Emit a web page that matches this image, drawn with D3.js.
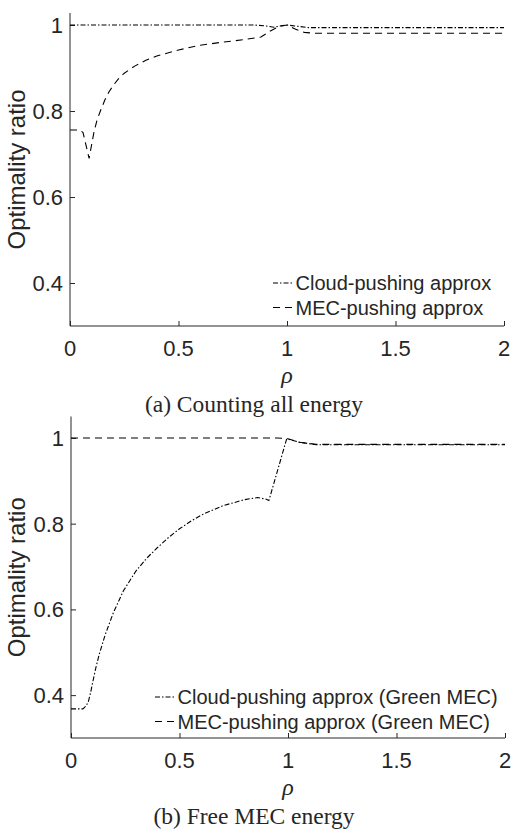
<!doctype html>
<html>
<head>
<meta charset="utf-8">
<script src="https://cdnjs.cloudflare.com/ajax/libs/d3/7.8.5/d3.min.js"></script>
<style>
  body { margin: 0; background: #ffffff; }
  svg text { fill: #262626; }
</style>
<title>Optimality ratio vs rho</title>
</head>
<body>
<div id="chart-area"></div>
<script>
// ---- data ----
var rhoTicks = [0, 0.5, 1, 1.5, 2];
var rhoTickLabels = ["0", "0.5", "1", "1.5", "2"];
var ratioTicks = [0.4, 0.6, 0.8, 1];
var ratioTickLabels = ["0.4", "0.6", "0.8", "1"];

// (a) counting all energy
var aCloudRho = [0, 0.85, 0.9, 0.94, 0.98, 1.0, 1.05, 1.1, 1.15, 2];
var aCloudVal = [1.0, 1.0, 0.998, 0.995, 0.999, 1.0, 0.997, 0.994, 0.994, 0.994];
var aMecRho = [0, 0.045, 0.06, 0.088, 0.11, 0.125, 0.14, 0.16, 0.18, 0.2, 0.225, 0.25, 0.3, 0.35, 0.4, 0.5, 0.6, 0.7, 0.8, 0.88, 0.92, 0.96, 1.0, 1.04, 1.08, 1.12, 2];
var aMecVal = [0.756, 0.756, 0.75, 0.69, 0.75, 0.78, 0.80, 0.825, 0.845, 0.86, 0.876, 0.888, 0.905, 0.918, 0.928, 0.942, 0.953, 0.96, 0.966, 0.972, 0.985, 0.996, 1.0, 0.99, 0.983, 0.981, 0.981];

// (b) free MEC energy
var bCloudRho = [0, 0.055, 0.07, 0.08, 0.09, 0.1, 0.115, 0.13, 0.157, 0.195, 0.241, 0.3, 0.35, 0.4, 0.45, 0.5, 0.55, 0.6, 0.7, 0.8, 0.86, 0.9, 0.912, 0.994, 1.055, 1.13, 2];
var bCloudVal = [0.368, 0.368, 0.375, 0.385, 0.405, 0.43, 0.465, 0.495, 0.54, 0.592, 0.643, 0.69, 0.72, 0.745, 0.768, 0.788, 0.805, 0.82, 0.842, 0.856, 0.861, 0.857, 0.854, 0.998, 0.99, 0.984, 0.984];
var bMecRho = [0, 0.95, 1.0, 1.05, 1.13, 2];
var bMecVal = [1.0, 1.0, 0.998, 0.99, 0.985, 0.985];

var cloudNames = ["Cloud-pushing approx", "Cloud-pushing approx (Green MEC)"];
var mecNames = ["MEC-pushing approx", "MEC-pushing approx (Green MEC)"];
var captions = ["(a) Counting all energy", "(b) Free MEC energy"];

var W = 511, H = 831;
var svg = d3.select("#chart-area").append("svg")
    .attr("width", W)
    .attr("height", H);

var dashDot = "5,2,1.5,2";
var dashed = "7,5";

var panels = [
  { x0: 70, x1: 504, yTop: 13, yBot: 326, yDomain: [0.3, 1.028], legX: 273, legY: 283,
    cloud: [aCloudRho, aCloudVal], mec: [aMecRho, aMecVal] },
  { x0: 71, x1: 505, yTop: 416.5, yBot: 738, yDomain: [0.3, 1.05], legX: 155, legY: 697,
    cloud: [bCloudRho, bCloudVal], mec: [bMecRho, bMecVal] }
];

panels.forEach(function(p, i) {
  var g = svg.append("g");

  var x = d3.scaleLinear().domain([0, 2]).range([p.x0, p.x1]);
  var y = d3.scaleLinear().domain(p.yDomain).range([p.yBot, p.yTop]);

  // axes (MATLAB style: inward ticks, no box)
  var xAxis = g.append("g")
    .attr("transform", "translate(0," + p.yBot + ")")
    .call(d3.axisTop(x).tickValues(rhoTicks).tickSize(5).tickFormat(""));
  var yAxis = g.append("g")
    .attr("transform", "translate(" + p.x0 + ",0)")
    .call(d3.axisRight(y).tickValues(ratioTicks).tickSize(5).tickFormat(""));
  [xAxis, yAxis].forEach(function(a) {
    a.select(".domain").attr("stroke", "#262626").attr("stroke-width", 1);
    a.selectAll(".tick line").attr("stroke", "#262626");
  });
  xAxis.select(".domain").attr("d", "M" + p.x0 + ",0H" + p.x1);
  yAxis.select(".domain").attr("d", "M0," + p.yBot + "V" + p.yTop);

  // tick labels
  g.selectAll(".xlab").data(rhoTicks).enter().append("text")
    .attr("x", function(d) { return x(d); })
    .attr("y", p.yBot + 30)
    .attr("text-anchor", "middle")
    .attr("font-family", "Liberation Sans, Arial, sans-serif")
    .attr("font-size", "22px")
    .text(function(d, j) { return rhoTickLabels[j]; });

  g.selectAll(".ylab").data(ratioTicks).enter().append("text")
    .attr("x", p.x0 - 7)
    .attr("y", function(d) { return y(d); })
    .attr("dy", "0.36em")
    .attr("text-anchor", "end")
    .attr("font-family", "Liberation Sans, Arial, sans-serif")
    .attr("font-size", "22px")
    .text(function(d, j) { return ratioTickLabels[j]; });

  // axis titles
  g.append("text")
    .attr("transform", "translate(25," + ((p.yTop + p.yBot) / 2) + ") rotate(-90)")
    .attr("text-anchor", "middle")
    .attr("font-family", "Liberation Sans, Arial, sans-serif")
    .attr("font-size", "24px")
    .text("Optimality ratio");

  g.append("text")
    .attr("x", x(1))
    .attr("y", p.yBot + 57)
    .attr("text-anchor", "middle")
    .attr("font-family", "Liberation Serif, Times New Roman, serif")
    .attr("font-style", "italic")
    .attr("font-size", "24px")
    .text("ρ");

  g.append("text")
    .attr("x", 254)
    .attr("y", p.yBot + 86)
    .attr("text-anchor", "middle")
    .attr("font-family", "Liberation Serif, Times New Roman, serif")
    .attr("font-size", "23.5px")
    .text(captions[i]);

  // lines
  var line = d3.line()
    .x(function(d) { return x(d[0]); })
    .y(function(d) { return y(d[1]); });

  var cloudPts = d3.zip(p.cloud[0], p.cloud[1]);
  var mecPts = d3.zip(p.mec[0], p.mec[1]);

  g.append("path")
    .attr("fill", "none")
    .attr("stroke", "#000")
    .attr("stroke-width", 1.1)
    .attr("stroke-dasharray", dashDot)
    .attr("d", line(cloudPts));

  g.append("path")
    .attr("fill", "none")
    .attr("stroke", "#000")
    .attr("stroke-width", 1.1)
    .attr("stroke-dasharray", dashed)
    .attr("d", line(mecPts));

  // legend
  var legend = g.append("g").attr("transform", "translate(" + p.legX + "," + p.legY + ")");
  [[cloudNames[i], dashDot], [mecNames[i], dashed]].forEach(function(item, k) {
    var row = legend.append("g").attr("transform", "translate(0," + (k * 24.5) + ")");
    row.append("line")
      .attr("x1", 0).attr("x2", 21)
      .attr("y1", 0).attr("y2", 0)
      .attr("stroke", "#000")
      .attr("stroke-width", 1.1)
      .attr("stroke-dasharray", item[1]);
    row.append("text")
      .attr("x", 22.5)
      .attr("y", 0)
      .attr("dy", "0.36em")
      .attr("font-family", "Liberation Sans, Arial, sans-serif")
      .attr("font-size", "20px")
      .text(item[0]);
  });
});
</script>
</body>
</html>
